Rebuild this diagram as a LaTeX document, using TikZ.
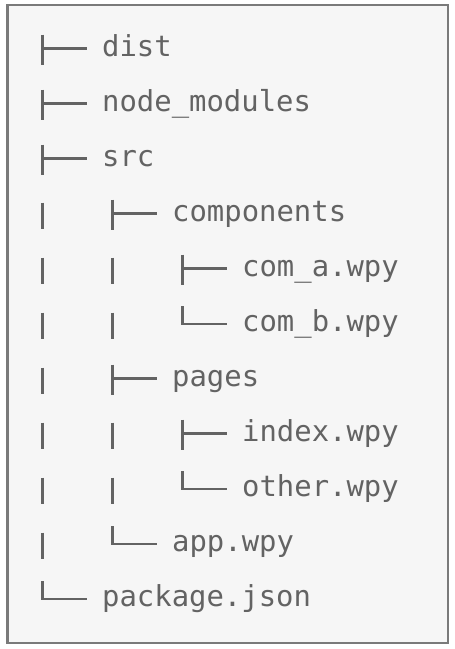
\documentclass[tikz,border=0pt]{standalone}
\usepackage{fontspec}
\setmonofont{DejaVu Sans Mono}
\usepackage{tikz}

\definecolor{ink}{HTML}{636363}
\definecolor{frame}{HTML}{7A7A7A}
\definecolor{paper}{HTML}{F6F6F6}

\begin{document}
\begin{tikzpicture}[x=1pt, y=-1pt,
  every node/.style={anchor=base west, inner sep=0pt, text=ink, font=\ttfamily\fontsize{28.9}{30}\selectfont},
  tee/.style={draw=ink, line width=2.2pt}]
\useasboundingbox (0,0) rectangle (455,649);
\draw[line width=2.6pt, draw=frame, fill=paper] (7.5,5) rectangle (447.8,642.8);

% entries
\node (dist) at (102,56.3) {dist};
\node (nodemod) at (102,111.3) {node\_modules};
\node (src) at (102,166.3) {src};
\node (comps) at (172,221.3) {components};
\node (coma) at (242,276.3) {com\_a.wpy};
\node (comb) at (242,331.3) {com\_b.wpy};
\node (pages) at (172,386.3) {pages};
\node (index) at (242,441.3) {index.wpy};
\node (other) at (242,496.3) {other.wpy};
\node (app) at (172,551.3) {app.wpy};
\node (pkg) at (102,606.3) {package.json};

% branches
\draw[tee] (42.5,34.5) -- (42.5,64.5) (42.5,48.5) -- (87,48.5);
\draw[tee] (42.5,89.5) -- (42.5,119.5) (42.5,103.5) -- (87,103.5);
\draw[tee] (42.5,144.5) -- (42.5,174.5) (42.5,158.5) -- (87,158.5);
\draw[tee] (112.5,199.5) -- (112.5,229.5) (112.5,213.5) -- (157,213.5);
\draw[tee] (182.5,254.5) -- (182.5,284.5) (182.5,268.5) -- (227,268.5);
\draw[tee] (182.5,306) |- (227,324);
\draw[tee] (112.5,364.5) -- (112.5,394.5) (112.5,378.5) -- (157,378.5);
\draw[tee] (182.5,419.5) -- (182.5,449.5) (182.5,433.5) -- (227,433.5);
\draw[tee] (182.5,471) |- (227,489);
\draw[tee] (112.5,526) |- (157,544);
\draw[tee] (42.5,581) |- (87,599);

% pipes
\draw[tee] (42.5,202.5) -- (42.5,228.5);
\draw[tee] (42.5,257.5) -- (42.5,283.5);
\draw[tee] (42.5,312.5) -- (42.5,338.5);
\draw[tee] (42.5,367.5) -- (42.5,393.5);
\draw[tee] (42.5,422.5) -- (42.5,448.5);
\draw[tee] (42.5,477.5) -- (42.5,503.5);
\draw[tee] (42.5,532.5) -- (42.5,558.5);
\draw[tee] (112.5,257.5) -- (112.5,283.5);
\draw[tee] (112.5,312.5) -- (112.5,338.5);
\draw[tee] (112.5,422.5) -- (112.5,448.5);
\draw[tee] (112.5,477.5) -- (112.5,503.5);
\end{tikzpicture}
\end{document}
